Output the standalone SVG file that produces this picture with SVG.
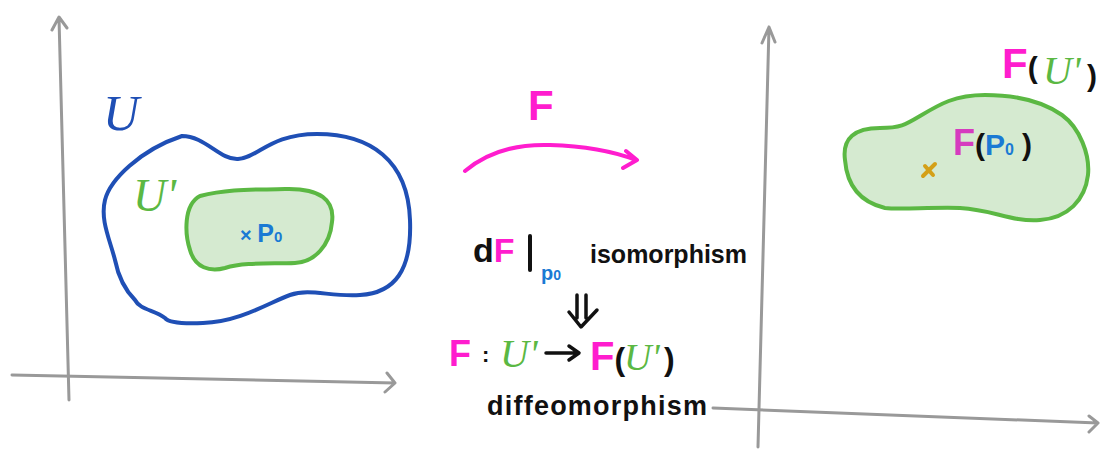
<svg xmlns="http://www.w3.org/2000/svg" width="1101" height="449" viewBox="0 0 1101 449">
<style>
.axis{fill:none;stroke:#999;stroke-width:3;stroke-linecap:round;stroke-linejoin:round}
.blue{fill:none;stroke:#1f4fb5;stroke-width:4}
.region{fill:#d5ead0;stroke:#5bb843;stroke-width:4}
.t{font-family:"Liberation Sans",Arial,sans-serif;font-weight:bold}
.s{font-family:"Liberation Serif","Times New Roman",serif;font-style:italic}
.mag{fill:#ff1dce}
.grn{fill:#5bb843}
.blk{fill:#111}
.bl{fill:#1a7ad4}
</style>
<g id="axes-left">
<path class="axis" d="M69,400 L59,18 M52,30 L59,17 L67,28"/>
<path class="axis" d="M12,375 L395,383 M387,373 L395,383 L385,392"/>
</g>
<g id="axes-right">
<path class="axis" d="M758,447 L769,27 M762,43 L769,27 L775,42"/>
<path class="axis" d="M713,408 L1098,423 M1089,416 L1098,423 L1089,432"/>
</g>
<g id="region-U">
<path class="blue" d="M182,136 C205,136 220,160 238,159 C258,158 270,134 317,134 C370,134 408,160 410,220 C412,270 395,293 360,295 C330,297 310,288 290,295 C270,302 240,322 203,323 C180,324 168,322 165,318 C155,310 140,310 135,300 C125,290 118,275 115,260 C110,240 100,220 105,200 C110,180 140,150 182,136 Z"/>
<text class="s" x="103" y="130" font-size="50" fill="#1f4fb5">U</text>
</g>
<g id="region-Uprime">
<path class="region" d="M200,196 C230,188 260,190 285,189 C320,188 335,200 332,222 C330,245 315,262 295,263 C270,264 245,262 225,268 C210,272 195,268 190,250 C185,235 183,205 200,196 Z"/>
<text class="s grn" x="133" y="211" font-size="46">U'</text>
<text class="t bl" x="240" y="242" font-size="20">× <tspan font-size="25">P</tspan><tspan font-size="15">0</tspan></text>
</g>
<g id="connectors">
<path d="M465,171 C490,150 520,144 550,145 C585,146 615,152 636,160 M626,151 L637,160 L623,168" fill="none" stroke="#ff1dce" stroke-width="4" stroke-linecap="round" stroke-linejoin="round"/>
<path d="M577,295 L577,318 M586,295 L586,318 M569,312 L581,327 L597,310" fill="none" stroke="#111" stroke-width="3.5" stroke-linecap="round" stroke-linejoin="round"/>
</g>
<g id="label-F">
<text class="t mag" x="528" y="120" font-size="42" font-weight="normal">F</text>
</g>
<g id="label-iso">
<text class="t" x="473" y="262" font-size="34"><tspan class="blk">d</tspan><tspan class="mag">F</tspan></text>
<path d="M530,236 L530,270" stroke="#111" stroke-width="4" stroke-linecap="round"/>
<text class="t bl" x="541" y="280" font-size="20">p<tspan font-size="14">0</tspan></text>
<text class="t blk" x="590" y="263" font-size="25" textLength="157">isomorphism</text>
</g>
<g id="label-map">
<text class="t mag" x="449" y="366" font-size="36">F</text>
<text class="t blk" x="482" y="362" font-size="22">:</text>
<text class="s grn" x="500" y="367" font-size="40">U'</text>
<path d="M546,353 L578,353 M569,346 L579,353 L569,360" fill="none" stroke="#111" stroke-width="3.5" stroke-linecap="round" stroke-linejoin="round"/>
<text class="t" x="590" y="370" font-size="40"><tspan class="mag">F</tspan><tspan class="blk" font-size="32">(</tspan></text>
<text class="s grn" x="624" y="370" font-size="38">U'</text>
<text class="t blk" x="664" y="370" font-size="32">)</text>
<text class="t blk" x="487" y="415" font-size="27" textLength="220">diffeomorphism</text>
</g>
<g id="region-FU">
<path class="region" d="M845,160 C842,138 855,128 880,128 C900,128 905,125 920,116 C940,104 955,95 985,95 C1020,95 1045,103 1062,115 C1080,128 1090,155 1088,175 C1085,200 1068,218 1040,220 C1010,222 995,210 960,208 C930,207 900,210 885,208 C860,202 847,185 845,160 Z"/>
<path d="M923,176 L935,164 M925,166 L933,175" stroke="#d4a017" stroke-width="4" stroke-linecap="round"/>
<text class="t" x="953" y="155" font-size="36"><tspan fill="#d63bbf">F</tspan><tspan class="blk" font-size="30">(</tspan><tspan class="bl" font-size="30">P</tspan><tspan class="bl" font-size="16">0</tspan><tspan class="blk" font-size="30" dx="8">)</tspan></text>
<text class="t" x="1002" y="78" font-size="42"><tspan class="mag">F</tspan><tspan class="blk" font-size="30">(</tspan></text>
<text class="s grn" x="1043" y="84" font-size="40">U'</text>
<text class="t blk" x="1087" y="86" font-size="30">)</text>
</g>
</svg>
